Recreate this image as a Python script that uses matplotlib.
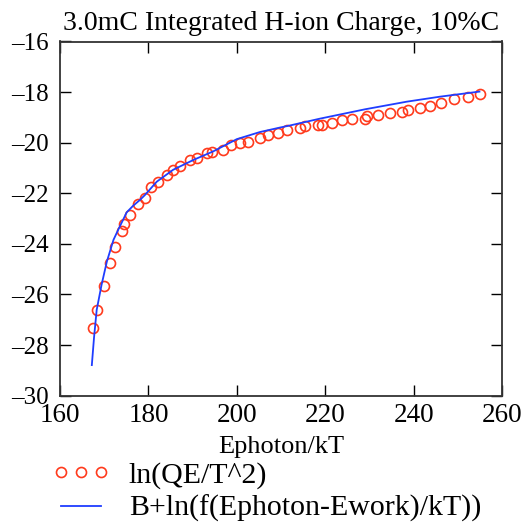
import matplotlib
matplotlib.use("Agg")
import matplotlib.pyplot as plt
from matplotlib.lines import Line2D

# measured data: ln(QE/T^2)
x_data = [167.4, 168.3, 169.9, 171.3, 172.5, 174.0, 174.4, 175.8, 177.7, 179.2,
          180.7, 182.2, 184.1, 185.6, 187.1, 189.4, 190.9, 193.2, 194.3, 196.9,
          198.8, 200.7, 202.6, 205.2, 207.1, 209.4, 211.3, 214.3, 215.4, 218.4,
          219.2, 221.5, 223.7, 226.0, 229.0, 229.4, 232.0, 234.7, 237.3, 238.8,
          241.4, 243.6, 246.2, 249.1, 252.2, 255.0]
y_data = [-27.33, -26.61, -25.66, -24.76, -24.13, -23.50, -23.21, -22.85, -22.42, -22.20,
          -21.74, -21.54, -21.27, -21.07, -20.94, -20.68, -20.61, -20.41, -20.35, -20.28,
          -20.09, -20.02, -19.96, -19.82, -19.69, -19.62, -19.49, -19.42, -19.35, -19.29,
          -19.29, -19.22, -19.09, -19.06, -19.06, -18.93, -18.90, -18.81, -18.77, -18.70,
          -18.61, -18.54, -18.44, -18.28, -18.18, -18.07]

# fit curve: B+ln(f(Ephoton-Ework)/kT)
x_fit = [167.2, 167.7, 168.3, 169.4, 170.6, 172.1, 173.2, 175.1, 176.5, 178.1,
         179.2, 181.9, 185.6, 190.2, 194.7, 200.0, 205.2, 209.8, 212.0, 218.8,
         229.0, 238.4, 246.0, 254.9]
y_fit = [-28.79, -27.70, -26.61, -25.62, -24.70, -23.84, -23.43, -22.75, -22.50, -22.26,
         -22.07, -21.54, -21.07, -20.68, -20.34, -19.86, -19.58, -19.40, -19.32, -19.05,
         -18.68, -18.38, -18.18, -17.98]

title = "3.0mC Integrated H-ion Charge, 10%C"
xlabel = "Ephoton/kT"
label_data = "ln(QE/T^2)"
label_fit = "B+ln(f(Ephoton-Ework)/kT))"
x_ticks = [160, 180, 200, 220, 240, 260]
y_ticks = [-30, -28, -26, -24, -22, -20, -18, -16]

plt.rcParams['font.family'] = ['Liberation Serif', 'DejaVu Serif']

red = '#FF3A1C'
blue = '#1F3DFF'

fig = plt.figure(figsize=(5.27, 5.23), dpi=100)
ax = fig.add_axes([60/527, 1-395.7/523, (502-60)/527, (395.7-41.5)/523])

ax.plot(x_data, y_data, linestyle='none', marker='o', markersize=7.2,
        markerfacecolor='none', markeredgecolor=red, markeredgewidth=1.2, zorder=2)
ax.plot(x_fit, y_fit, color=blue, linewidth=1.3, zorder=3)

ax.set_xlim(160, 260)
ax.set_ylim(-30, -16)
ax.set_xticks(x_ticks)
ax.set_yticks(y_ticks)
ax.set_xticklabels([str(t) for t in x_ticks], fontsize=19.5)
ax.set_yticklabels(['\u2013' + str(-t) for t in y_ticks], fontsize=18)
ax.tick_params(direction='in', length=8, width=1, top=True, right=True,
               colors='black')
ax.tick_params(axis='x', pad=5)
ax.tick_params(axis='y', pad=8)
for s in ax.spines.values():
    s.set_linewidth(1.3)
    s.set_color('#333333')

ax.set_title(title, fontsize=20, pad=8)
ax.set_xlabel(xlabel, fontsize=19, labelpad=6)

handles = [Line2D([], [], linestyle='none', marker='o', markersize=7.2,
                  markerfacecolor='none', markeredgecolor=red, markeredgewidth=1.2),
           Line2D([], [], color=blue, linewidth=1.3)]
fig.legend(handles, [label_data, label_fit], loc='upper left',
           bbox_to_anchor=(52/527, 1-462/523), frameon=False, fontsize=21.5,
           numpoints=3, handlelength=1.95, handletextpad=0.62, labelspacing=0.2,
           borderpad=0, borderaxespad=0)

fig.savefig('out.png', dpi=100)
